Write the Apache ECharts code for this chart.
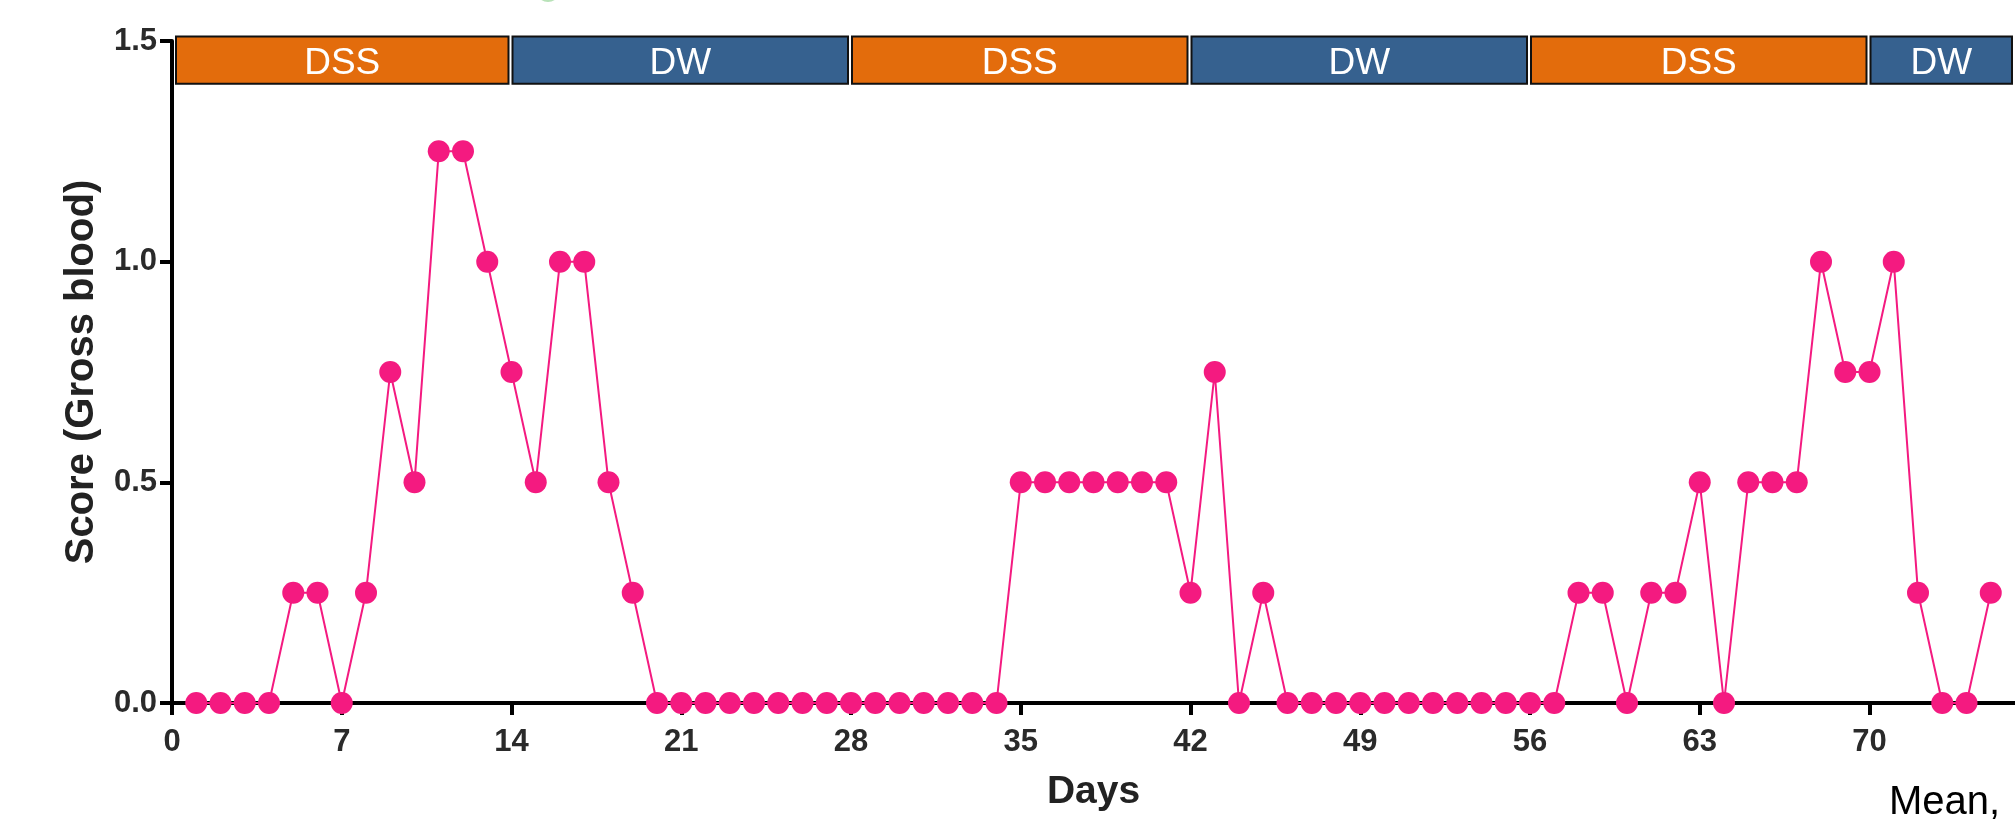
<!DOCTYPE html>
<html><head><meta charset="utf-8">
<script src="https://cdn.jsdelivr.net/npm/echarts@6/dist/echarts.min.js"></script>
<style>html,body{margin:0;padding:0;background:#fff}#c{width:2015px;height:822px}</style>
</head><body><div id="c"></div>
<script>
// ---- data ----
const days = [1,2,3,4,5,6,7,8,9,10,11,12,13,14,15,16,17,18,19,20,21,22,23,24,25,26,27,28,29,30,31,32,33,34,35,36,37,38,39,40,41,42,43,44,45,46,47,48,49,50,51,52,53,54,55,56,57,58,59,60,61,62,63,64,65,66,67,68,69,70,71,72,73,74,75];
const scores = [0,0,0,0,0.25,0.25,0,0.25,0.75,0.5,1.25,1.25,1.0,0.75,0.5,1.0,1.0,0.5,0.25,0,
  0,0,0,0,0,0,0,0,0,0,0,0,0,0,
  0.5,0.5,0.5,0.5,0.5,0.5,0.5,
  0.25,0.75,0,0.25,
  0,0,0,0,0,0,0,0,0,0,0,0,
  0.25,0.25,0,0.25,0.25,0.5,0,0.5,0.5,0.5,1.0,0.75,0.75,1.0,0.25,0,0,0.25];
const xTicks = [0,7,14,21,28,35,42,49,56,63,70];
const yTicks = [0,0.5,1.0,1.5];
const phaseStart = [0,14,28,42,56,70];
const phaseEnd = [14,28,42,56,70,76];
const phaseLabel = ['DSS','DW','DSS','DW','DSS','DW'];
const bandLow = 1.403, bandHigh = 1.51;

// ---- styles ----
const PINK = '#F41A80', ORANGE = '#E36C0C', BLUE = '#36618F';
const FONT = '"Liberation Sans", Arial, sans-serif';

const chart = echarts.init(document.getElementById('c'), null, {renderer: 'canvas'});

function renderBand(params, api) {
  const s = api.value(0), e = api.value(1);
  const p0 = api.coord([s, bandHigh]);
  const p1 = api.coord([e, bandLow]);
  const x0 = p0[0] + (s === 0 ? 4 : 1);
  const x1 = p1[0] - 3;
  const label = phaseLabel[params.dataIndex];
  return {
    type: 'rect',
    shape: {x: x0, y: p0[1], width: x1 - x0, height: p1[1] - p0[1]},
    style: {fill: label === 'DSS' ? ORANGE : BLUE, stroke: '#111', lineWidth: 2},
    textContent: {style: {text: label, fill: '#fff', fontSize: 37, fontFamily: FONT}},
    textConfig: {position: 'inside', offset: [0, 4]}
  };
}

chart.setOption({
  animation: false,
  backgroundColor: '#fff',
  grid: {left: 172, right: 0, top: 41, bottom: 119, containLabel: false},
  xAxis: {
    type: 'value', min: 0, max: 76, interval: 7,
    name: 'Days', nameLocation: 'middle', nameGap: 70,
    nameTextStyle: {fontFamily: FONT, fontWeight: 'bold', fontSize: 39, color: '#222'},
    axisLine: {show: true, onZero: false, lineStyle: {color: '#000', width: 4}},
    axisTick: {show: true, length: 12, lineStyle: {color: '#000', width: 4}, customValues: xTicks},
    axisLabel: {customValues: xTicks, margin: 24, fontFamily: FONT, fontWeight: 'bold', fontSize: 31, color: '#2a2a2a'},
    splitLine: {show: false}
  },
  yAxis: {
    type: 'value', min: 0, max: 1.5, interval: 0.5,
    name: 'Score (Gross blood)', nameLocation: 'middle', nameGap: 70,
    nameTextStyle: {fontFamily: FONT, fontWeight: 'bold', fontSize: 40, color: '#222'},
    axisLine: {show: true, lineStyle: {color: '#000', width: 4}},
    axisTick: {show: true, length: 12, lineStyle: {color: '#000', width: 4}, customValues: yTicks},
    axisLabel: {customValues: yTicks, margin: 15, fontFamily: FONT, fontWeight: 'bold', fontSize: 31, color: '#2a2a2a',
      formatter: v => Number(v).toFixed(1)},
    splitLine: {show: false}
  },
  series: [
    {
      type: 'custom', renderItem: renderBand, clip: false, z: 1,
      encode: {x: [0, 1]},
      data: phaseStart.map((s, i) => [s, phaseEnd[i]])
    },
    {
      type: 'line', z: 3,
      data: days.map((d, i) => [d, scores[i]]),
      symbol: 'circle', symbolSize: 22,
      lineStyle: {color: PINK, width: 2},
      itemStyle: {color: PINK}
    }
  ],
  graphic: [
    {type: 'circle', shape: {cx: 548, cy: -10, r: 12}, style: {fill: '#b8e2b8'}},
    {type: 'text', x: 1889, y: 803, style: {text: 'Mean,', fontFamily: FONT, fontSize: 40, fill: '#000', verticalAlign: 'middle'}}
  ]
});
</script>
</body></html>
